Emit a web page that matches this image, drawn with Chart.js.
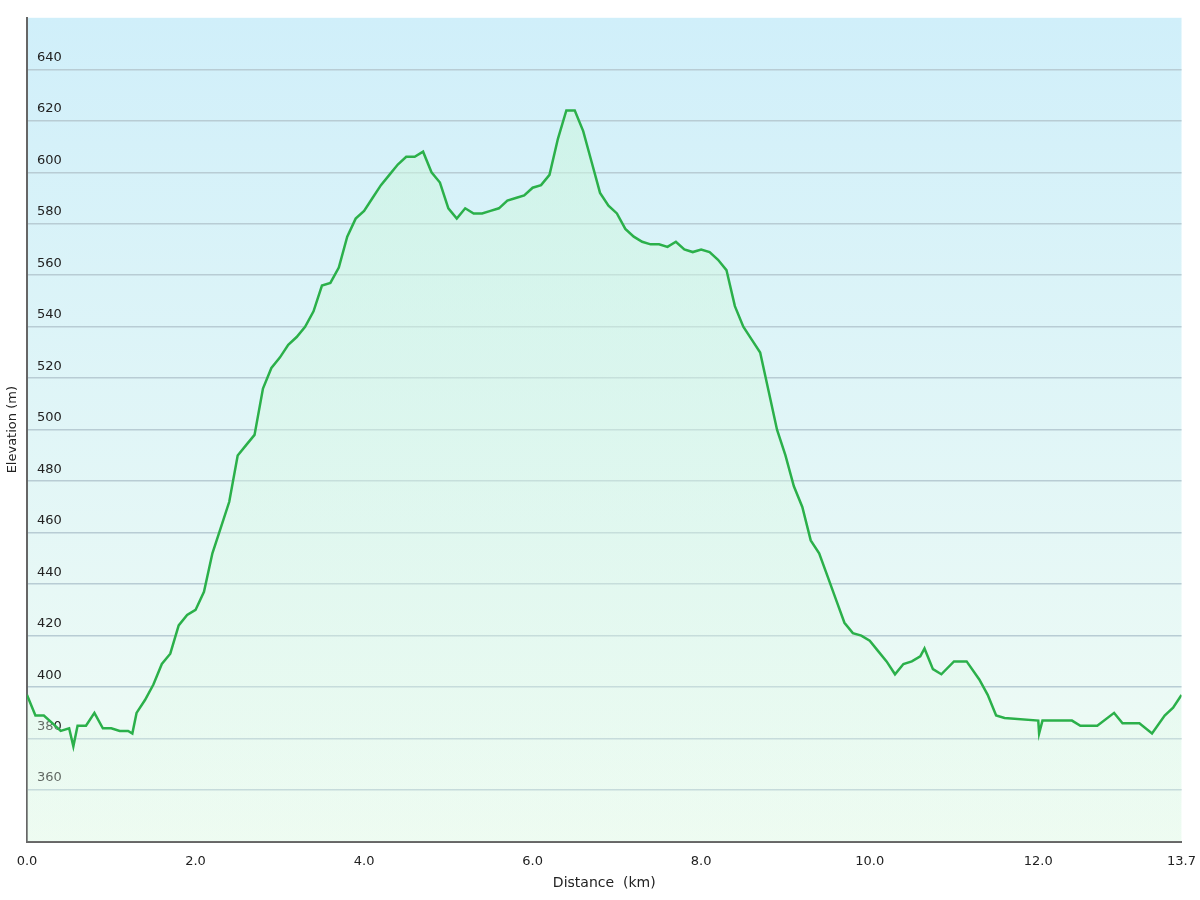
<!DOCTYPE html>
<html><head><meta charset="utf-8">
<script src="https://cdn.jsdelivr.net/npm/chart.js@4"></script>
<style>html,body{margin:0;background:#fff}#w{width:1200px;height:900px}</style>
</head><body><div id="w"><canvas id="c"></canvas></div>
<script>
const distanceKm=[0.0,0.1,0.2,0.3,0.4,0.5,0.55,0.6,0.7,0.8,0.9,1.0,1.1,1.2,1.25,1.3,1.4,1.5,1.6,1.7,1.8,1.9,2.0,2.1,2.2,2.3,2.4,2.5,2.6,2.7,2.8,2.9,3.0,3.1,3.2,3.3,3.4,3.5,3.6,3.7,3.8,3.9,4.0,4.1,4.2,4.3,4.4,4.5,4.6,4.7,4.8,4.9,5.0,5.1,5.2,5.3,5.4,5.5,5.6,5.7,5.8,5.9,6.0,6.1,6.2,6.3,6.4,6.5,6.6,6.7,6.8,6.9,7.0,7.1,7.2,7.3,7.4,7.5,7.6,7.7,7.8,7.9,8.0,8.1,8.2,8.3,8.4,8.5,8.6,8.7,8.8,8.9,9.0,9.1,9.2,9.3,9.4,9.5,9.6,9.7,9.8,9.9,10.0,10.1,10.2,10.3,10.4,10.5,10.6,10.65,10.75,10.85,11.0,11.1,11.15,11.3,11.4,11.5,11.6,12.0,12.01,12.05,12.4,12.5,12.7,12.9,13.0,13.2,13.35,13.5,13.6,13.7];
const elevationM=[397,389,389,386,383,384,377,385,385,390,384,384,383,383,382,390,395,401,409,413,424,428,430,437,452,462,472,490,494,498,516,524,528,533,536,540,546,556,557,563,575,582,585,590,595,599,603,606,606,608,600,596,586,582,586,584,584,585,586,589,590,591,594,595,599,613,624,624,616,604,592,587,584,578,575,573,572,572,571,573,570,569,570,569,566,562,548,540,535,530,515,500,490,478,470,457,452,443,434,425,421,420,418,414,410,405,409,410,412,415,407,405,410,410,410,403,397,389,388,387,382,387,387,385,385,390,386,386,382,389,392,397];
const xTicks=[0,2,4,6,8,10,12,13.7];
const yTicks=[360,380,400,420,440,460,480,500,520,540,560,580,600,620,640];
const bg={id:'bg',beforeDraw(ch){const {ctx,chartArea:a}=ch;const g=ctx.createLinearGradient(0,a.top,0,a.bottom);g.addColorStop(0,'#d0effa');g.addColorStop(1,'#f1fcf4');ctx.save();ctx.fillStyle=g;ctx.fillRect(a.left,a.top,a.width,a.height);ctx.restore();},
afterDraw(ch){const {ctx,chartArea:a}=ch;ctx.save();ctx.translate(13,(a.top+a.bottom)/2);ctx.rotate(-Math.PI/2);ctx.fillStyle='#222';ctx.font='13px "DejaVu Sans"';ctx.textAlign='center';ctx.textBaseline='middle';ctx.fillText('Elevation (m)',0,0);ctx.restore();}};
new Chart(document.getElementById('c'),{type:'line',
data:{datasets:[{data:distanceKm.map((x,i)=>({x,y:elevationM[i]})),borderColor:'#2bb04a',borderWidth:2.5,pointRadius:0,tension:0,
fill:{target:'origin'},backgroundColor:(c)=>{const a=c.chart.chartArea;if(!a)return 'rgba(180,240,210,0.4)';const g=c.chart.ctx.createLinearGradient(0,a.top,0,a.bottom);g.addColorStop(0,'rgba(200,245,220,0.6)');g.addColorStop(1,'rgba(230,250,235,0.3)');return g;}}]},
options:{responsive:true,maintainAspectRatio:false,animation:false,
layout:{padding:{top:4,right:0,left:0,bottom:4}},
plugins:{legend:{display:false},tooltip:{enabled:false}},
scales:{
x:{type:'linear',min:0,max:13.7,afterBuildTicks(s){s.ticks=xTicks.map(v=>({value:v}));},
ticks:{color:'#222',font:{family:'DejaVu Sans',size:13},callback:v=>v.toFixed(1),maxRotation:0,padding:4},
grid:{display:false,drawTicks:true},border:{color:'#666',width:2},
title:{display:true,text:'Distance  (km)',color:'#222',font:{family:'DejaVu Sans',size:14},padding:{top:2}}},
y:{min:340,max:660,afterBuildTicks(s){s.ticks=yTicks.map(v=>({value:v}));},afterFit(s){s.width=27;},
ticks:{mirror:true,color:'#222',font:{family:'DejaVu Sans',size:13},padding:10,labelOffset:-12},
grid:{color:'#b8ccd4',lineWidth:1.5,drawTicks:false},border:{color:'#666',width:2},
title:{display:false}}}},
plugins:[bg]});
</script></body></html>
